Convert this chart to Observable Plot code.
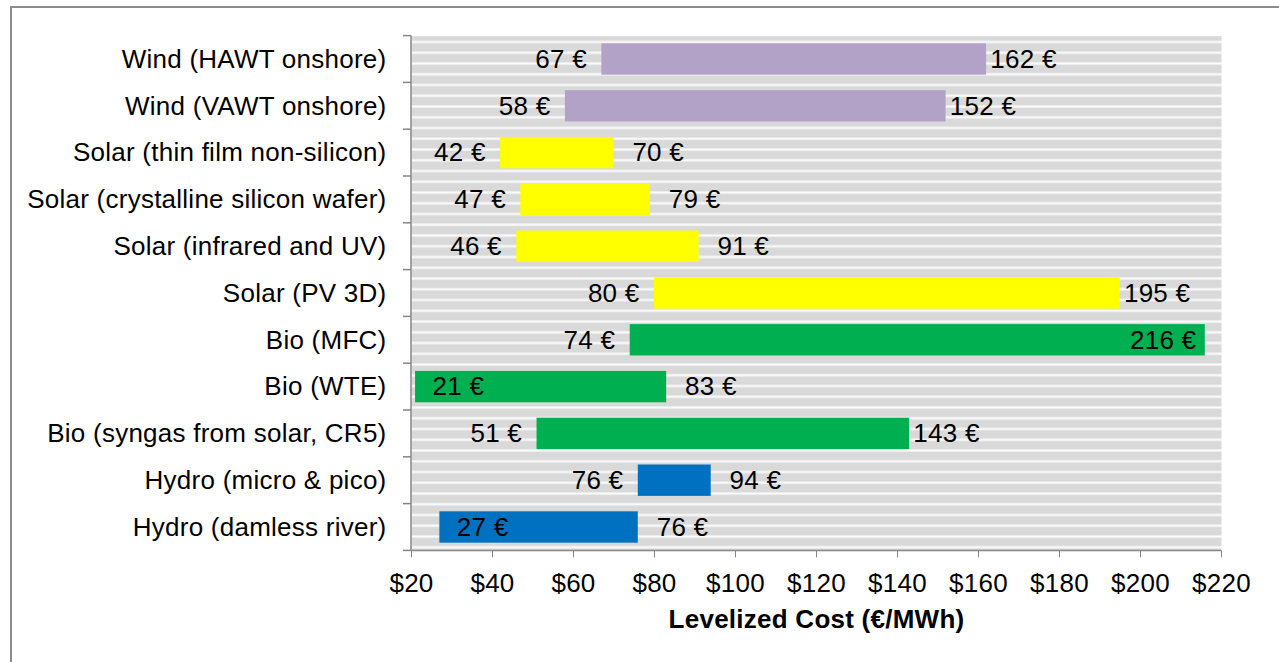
<!DOCTYPE html>
<html><head><meta charset="utf-8">
<script src="https://cdn.jsdelivr.net/npm/d3@7"></script>
<script src="https://cdn.jsdelivr.net/npm/@observablehq/plot@0.6"></script>
<style>
html,body{margin:0;padding:0;background:#fff;overflow:hidden}
#border{position:absolute;left:10px;top:6px;width:1320px;height:720px;border:2px solid #8c8c8c;box-sizing:border-box}
#chart{position:absolute;left:0;top:0}
</style></head><body>
<div id="border"></div><div id="chart"></div>
<script>
const categories = ["Wind (HAWT onshore)","Wind (VAWT onshore)","Solar (thin film non-silicon)","Solar (crystalline silicon wafer)","Solar (infrared and UV)","Solar (PV 3D)","Bio (MFC)","Bio (WTE)","Bio (syngas from solar, CR5)","Hydro (micro & pico)","Hydro (damless river)"];
const lows  = [67, 58, 42, 47, 46, 80, 74, 21, 51, 76, 27];
const highs = [162, 152, 70, 79, 91, 195, 216, 83, 143, 94, 76];
const groups = ["Wind","Wind","Solar","Solar","Solar","Solar","Bio","Bio","Bio","Hydro","Hydro"];
const groupNames = ["Wind","Solar","Bio","Hydro"];
const xTicks = [20, 40, 60, 80, 100, 120, 140, 160, 180, 200, 220];
const axisTitle = "Levelized Cost (€/MWh)";

const rows = categories.map((c, i) => ({category: c, low: lows[i], high: highs[i], group: groups[i]}));
const FONT = "'Liberation Sans', Arial, sans-serif";
const FS = 26;
const lbl = v => v + " €";

const chart = Plot.plot({
  width: 1279, height: 662,
  marginLeft: 411, marginRight: 58, marginTop: 35.6, marginBottom: 111.6,
  style: {fontFamily: FONT, fontSize: FS + "px", background: "transparent", color: "#000", letterSpacing: "0.25px"},
  x: {domain: [20, 220], round: false},
  y: {domain: categories, paddingInner: 0.33, paddingOuter: 0.165, round: false},
  color: {domain: groupNames, range: ["#b3a2c7", "#ffff00", "#00b050", "#0070c0"]},
  marks: [
    Plot.frame({fill: "#d9d9d9", stroke: null}),
    Plot.barX(rows, {x1: "low", x2: "high", y: "category", fill: "group"}),
    Plot.axisX({ticks: xTicks, tickFormat: d => "$" + d, tickSize: 7, tickPadding: 16, stroke: "#868686", fill: "#000", fontSize: FS, label: null}),
    Plot.axisY({tickSize: 0, tickPadding: 25, fill: "#000", fontSize: FS, label: null}),
    Plot.text(rows.filter(d => d.low >= 35), {x: "low", y: "category", text: d => lbl(d.low), textAnchor: "end", dx: -15, fontSize: FS, fill: "#000"}),
    Plot.text(rows.filter(d => d.low < 35), {x: "low", y: "category", text: d => lbl(d.low), textAnchor: "start", dx: 17, fontSize: FS, fill: "#000"}),
    Plot.text(rows.filter(d => d.high <= 210), {x: "high", y: "category", text: d => lbl(d.high), textAnchor: "end", dx: 70, fontSize: FS, fill: "#000"}),
    Plot.text(rows.filter(d => d.high > 210), {x: "high", y: "category", text: d => lbl(d.high), textAnchor: "end", dx: -9, fontSize: FS, fill: "#000"}),
    Plot.text([axisTitle], {frameAnchor: "bottom", dy: 69, lineAnchor: "middle", text: d => d, fontWeight: "bold", fontSize: FS, fill: "#000"})
  ]
});
document.getElementById("chart").appendChild(chart);

// decorations from the plot's own scales
const svg = d3.select(chart.tagName.toLowerCase() === "svg" ? chart : chart.querySelector("svg"));
const xs = chart.scale("x"), ys = chart.scale("y");
const [xa, xb] = xs.range;
const bw = ys.bandwidth;
const step = bw / (1 - 0.33);
const topB = ys.apply(categories[0]) - (step - bw) / 2;
const botB = ys.apply(categories[categories.length - 1]) + bw + (step - bw) / 2;

// striped background pattern
const defs = svg.insert("defs", ":first-child");
const P = 10.75;
const pat = defs.append("pattern").attr("id", "stripes").attr("patternUnits", "userSpaceOnUse")
  .attr("width", 20).attr("height", P).attr("patternTransform", `translate(0,${topB + 4.4})`);
pat.append("rect").attr("width", 20).attr("height", P).attr("fill", "#d9d9d9");
pat.append("rect").attr("y", 0).attr("width", 20).attr("height", 3).attr("fill", "#ececec");
pat.append("rect").attr("y", 0.9).attr("width", 20).attr("height", 1.3).attr("fill", "#fbfbfb");
svg.selectAll('[aria-label="frame"]').attr("fill", "url(#stripes)");

const g = svg.append("g").attr("stroke", "#868686").attr("stroke-width", 1.5);
g.append("line").attr("x1", xa).attr("x2", xa).attr("y1", topB).attr("y2", botB);
g.append("line").attr("x1", xa).attr("x2", xb).attr("y1", botB).attr("y2", botB);
for (let i = 0; i <= categories.length; i++) {
  const yy = topB + i * step;
  g.append("line").attr("x1", xa - 8).attr("x2", xa).attr("y1", yy).attr("y2", yy);
}
</script>
</body></html>
